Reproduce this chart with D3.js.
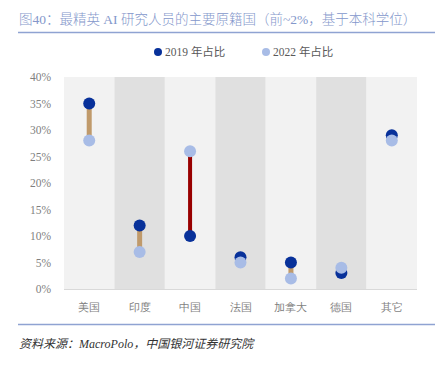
<!DOCTYPE html>
<html><head><meta charset="utf-8">
<script src="https://cdn.jsdelivr.net/npm/d3@7"></script>
<style>body{margin:0;background:#fff;} svg{display:block;font-family:"Noto Sans CJK SC","Noto Sans",sans-serif;}</style>
</head><body><svg id="c" width="442" height="367"></svg>
<script>
const categories = ["美国","印度","中国","法国","加拿大","德国","其它"];
const share2019 = [35, 12, 10, 6, 5, 3, 29];
const share2022 = [28, 7, 26, 5, 2, 4, 28];
const yTicks = [0,5,10,15,20,25,30,35,40];
const seriesNames = ["2019 年占比","2022 年占比"];

const svg = d3.select("#c");
const m = {left:64, right:417, top:77, bottom:289};
const x = d3.scaleBand().domain(categories).range([m.left, m.right]).padding(0);
const y = d3.scaleLinear().domain([0,40]).range([m.bottom, m.top]);
const c19 = "#08319a", c22 = "#a8bce6";
const serifMix = "'Liberation Serif','Noto Sans CJK SC',serif";

// title
svg.append("text").attr("x",19).attr("y",24).attr("font-size",13.5).attr("font-weight",300).attr("fill","#8497cb")
  .attr("font-family",serifMix)
  .text("图40：最精英 AI 研究人员的主要原籍国（前~2%，基于本科学位）");
svg.append("line").attr("x1",18).attr("x2",435).attr("y1",32.5).attr("y2",32.5).attr("stroke","#8fa3d2").attr("stroke-width",1.5);

// legend
const leg = [{x:158,c:c19,t:seriesNames[0]},{x:266,c:c22,t:seriesNames[1]}];
leg.forEach(d=>{
  svg.append("circle").attr("cx",d.x).attr("cy",52).attr("r",4).attr("fill",d.c);
  svg.append("text").attr("x",d.x+7).attr("y",56).attr("font-size",11.5).attr("fill","#595959")
    .attr("font-family",serifMix).text(d.t);
});

// bands
svg.append("g").selectAll("rect").data(categories).join("rect")
  .attr("x",d=>x(d)).attr("width",x.bandwidth()).attr("y",m.top).attr("height",m.bottom-m.top)
  .attr("fill",(d,i)=> i%2===0 ? "#f2f2f2" : "#e0e0e0");
svg.append("line").attr("x1",m.left).attr("x2",m.right).attr("y1",m.bottom+0.5).attr("y2",m.bottom+0.5).attr("stroke","#d9d9d9");

// y axis
const ya = svg.append("g").attr("transform",`translate(${m.left},0)`)
  .call(d3.axisLeft(y).tickValues(yTicks).tickFormat(d=>d+"%").tickSize(0).tickPadding(13));
ya.select(".domain").remove();
ya.selectAll("text").attr("font-size",11.5).attr("fill","#7f7f7f").attr("font-family",serifMix);

// x axis
const xa = svg.append("g").attr("transform",`translate(0,${m.bottom})`)
  .call(d3.axisBottom(x).tickSize(0).tickPadding(14));
xa.select(".domain").remove();
xa.selectAll("text").attr("font-size",11).attr("font-weight",300).attr("fill","#7f7f7f");

// connectors
const data = categories.map((k,i)=>({k, a:share2019[i], b:share2022[i]}));
svg.append("g").selectAll("line").data(data).join("line")
  .attr("x1",d=>x(d.k)+x.bandwidth()/2).attr("x2",d=>x(d.k)+x.bandwidth()/2)
  .attr("y1",d=>y(d.a)).attr("y2",d=>y(d.b))
  .attr("stroke",d=> d.b - d.a > 5 ? "#990000" : "#c09a6b")
  .attr("stroke-width",d=> d.b - d.a > 5 ? 4 : 5);

svg.append("g").selectAll("circle").data(data).join("circle")
  .attr("cx",d=>x(d.k)+x.bandwidth()/2).attr("cy",d=>y(d.a)).attr("r",6).attr("fill",c19);
svg.append("g").selectAll("circle").data(data).join("circle")
  .attr("cx",d=>x(d.k)+x.bandwidth()/2).attr("cy",d=>y(d.b)).attr("r",6).attr("fill",c22);

// footer
svg.append("line").attr("x1",18).attr("x2",435).attr("y1",324.5).attr("y2",324.5).attr("stroke","#8fa3d2").attr("stroke-width",1.5);
svg.append("text").attr("x",19).attr("y",348).attr("font-size",12).attr("font-style","italic").attr("fill","#333")
  .attr("font-family",serifMix)
  .text("资料来源：MacroPolo，中国银河证券研究院");
</script></body></html>
